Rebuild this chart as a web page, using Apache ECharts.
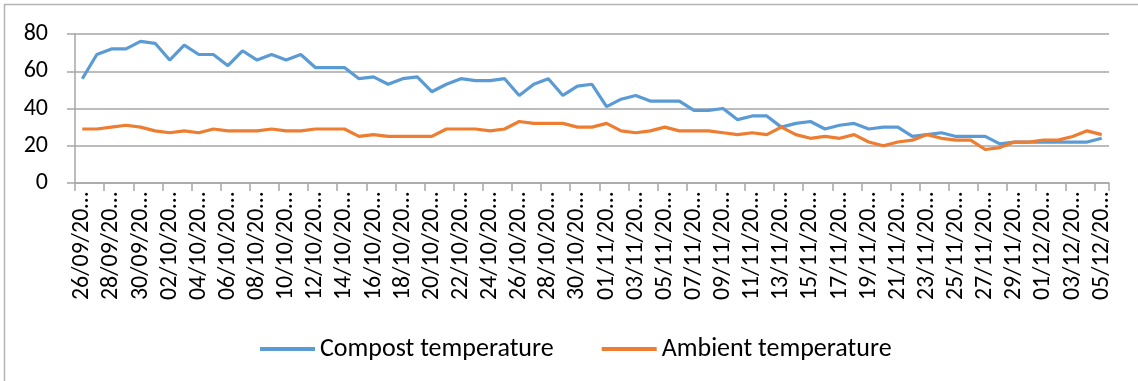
<!DOCTYPE html>
<html>
<head>
<meta charset="utf-8">
<title>Compost and ambient temperature</title>
<script src="https://cdn.jsdelivr.net/npm/echarts@6/dist/echarts.min.js"></script>
<style>
  html, body { margin: 0; padding: 0; background: #fff; }
  #chart { width: 1138px; height: 381px; }
</style>
</head>
<body>
<div id="chart"></div>
<script>
// Daily readings, 26 Sept to 5 Dec
const dates = [
  '26/09','27/09','28/09','29/09','30/09',
  '01/10','02/10','03/10','04/10','05/10','06/10','07/10','08/10','09/10','10/10',
  '11/10','12/10','13/10','14/10','15/10','16/10','17/10','18/10','19/10','20/10',
  '21/10','22/10','23/10','24/10','25/10','26/10','27/10','28/10','29/10','30/10','31/10',
  '01/11','02/11','03/11','04/11','05/11','06/11','07/11','08/11','09/11','10/11',
  '11/11','12/11','13/11','14/11','15/11','16/11','17/11','18/11','19/11','20/11',
  '21/11','22/11','23/11','24/11','25/11','26/11','27/11','28/11','29/11','30/11',
  '01/12','02/12','03/12','04/12','05/12'
];

const compostTemp = [
  56, 69, 72, 72, 76, 75, 66, 74, 69, 69, 63, 71, 66, 69, 66,
  69, 62, 62, 62, 56, 57, 53, 56, 57, 49, 53, 56, 55, 55, 56,
  47, 53, 56, 47, 52, 53, 41, 45, 47, 44, 44, 44, 39, 39, 40,
  34, 36, 36, 30, 32, 33, 29, 31, 32, 29, 30, 30, 25, 26, 27,
  25, 25, 25, 21, 22, 22, 22, 22, 22, 22, 24
];

const ambientTemp = [
  29, 29, 30, 31, 30, 28, 27, 28, 27, 29, 28, 28, 28, 29, 28,
  28, 29, 29, 29, 25, 26, 25, 25, 25, 25, 29, 29, 29, 28, 29,
  33, 32, 32, 32, 30, 30, 32, 28, 27, 28, 30, 28, 28, 28, 27,
  26, 27, 26, 30, 26, 24, 25, 24, 26, 22, 20, 22, 23, 26, 24,
  23, 23, 18, 19, 22, 22, 23, 23, 25, 28, 26
];

const yTicks = { min: 0, max: 80, step: 20 };

const FONT = 'Carlito, Calibri, Lato, sans-serif';
const GRID_GRAY = '#a6a6a6';

const chart = echarts.init(document.getElementById('chart'), null, { renderer: 'canvas' });

chart.setOption({
  animation: false,
  backgroundColor: '#ffffff',
  textStyle: { fontFamily: FONT, color: '#000' },
  graphic: [{
    type: 'rect',
    shape: { x: 4.5, y: 4.5, width: 1200, height: 400 },
    style: { fill: 'none', stroke: '#b4b4b4', lineWidth: 1.5 },
    silent: true
  }],
  grid: { left: 75, right: 29, top: 34, bottom: 198, containLabel: false },
  legend: {
    top: 331,
    left: 255,
    icon: 'rect',
    itemWidth: 55,
    itemHeight: 4,
    itemGap: 48,
    textStyle: { fontFamily: FONT, fontSize: 26, color: '#000' },
    data: ['Compost temperature', 'Ambient temperature']
  },
  xAxis: {
    type: 'category',
    data: dates,
    boundaryGap: true,
    axisLine: { show: true, lineStyle: { color: GRID_GRAY, width: 1.5 } },
    axisTick: { show: true, interval: 1, alignWithLabel: false, length: 8, lineStyle: { color: GRID_GRAY, width: 1.5 } },
    axisLabel: {
      interval: 1,
      rotate: 90,
      margin: 9,
      fontFamily: FONT,
      fontSize: 24,
      color: '#000',
      formatter: d => d + '/20\u2026'
    },
    splitLine: { show: false }
  },
  yAxis: {
    type: 'value',
    min: yTicks.min,
    max: yTicks.max,
    interval: yTicks.step,
    axisLine: { show: true, lineStyle: { color: GRID_GRAY, width: 1.5 } },
    axisTick: { show: true, length: 8, lineStyle: { color: GRID_GRAY, width: 1.5 } },
    axisLabel: { margin: 27, fontFamily: FONT, fontSize: 24, color: '#000' },
    splitLine: { show: true, lineStyle: { color: GRID_GRAY, width: 1.5 } }
  },
  series: [
    {
      name: 'Compost temperature',
      type: 'line',
      data: compostTemp,
      showSymbol: false,
      symbol: 'none',
      lineStyle: { color: '#5b9bd5', width: 3.2 },
      itemStyle: { color: '#5b9bd5' },
      z: 2
    },
    {
      name: 'Ambient temperature',
      type: 'line',
      data: ambientTemp,
      showSymbol: false,
      symbol: 'none',
      lineStyle: { color: '#ed7d31', width: 3.2 },
      itemStyle: { color: '#ed7d31' },
      z: 3
    }
  ]
});
</script>
</body>
</html>
